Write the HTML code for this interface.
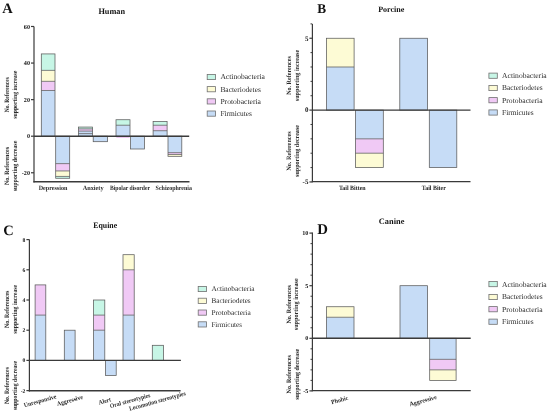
<!DOCTYPE html>
<html><head><meta charset="utf-8"><style>
html,body{margin:0;padding:0;background:#fff;}
body{width:550px;height:416px;overflow:hidden;}
svg{display:block;font-family:"Liberation Serif",serif;text-rendering:geometricPrecision;will-change:transform;}
</style></head><body>
<svg width="550" height="416" viewBox="0 0 550 416">
<rect width="550" height="416" fill="#fff"/>
<text x="7.50" y="13.00" font-size="14.5" font-weight="bold" text-anchor="middle" fill="#111">A</text>
<text x="111.70" y="14.10" font-size="8.4" font-weight="bold" text-anchor="middle" fill="#111" textLength="26.6" lengthAdjust="spacingAndGlyphs">Human</text>
<line x1="34.00" y1="26.50" x2="34.00" y2="182.60" stroke="#3a3a3a" stroke-width="1.2"/>
<line x1="31.00" y1="26.49" x2="34.00" y2="26.49" stroke="#3a3a3a" stroke-width="1.2"/>
<text x="30.00" y="28.60" font-size="6.2" font-weight="bold" text-anchor="end" fill="#151515">60</text>
<line x1="31.00" y1="63.06" x2="34.00" y2="63.06" stroke="#3a3a3a" stroke-width="1.2"/>
<text x="30.00" y="65.17" font-size="6.2" font-weight="bold" text-anchor="end" fill="#151515">40</text>
<line x1="31.00" y1="99.63" x2="34.00" y2="99.63" stroke="#3a3a3a" stroke-width="1.2"/>
<text x="30.00" y="101.74" font-size="6.2" font-weight="bold" text-anchor="end" fill="#151515">20</text>
<line x1="31.00" y1="136.20" x2="34.00" y2="136.20" stroke="#3a3a3a" stroke-width="1.2"/>
<text x="30.00" y="138.31" font-size="6.2" font-weight="bold" text-anchor="end" fill="#151515">0</text>
<line x1="31.00" y1="172.77" x2="34.00" y2="172.77" stroke="#3a3a3a" stroke-width="1.2"/>
<text x="30.00" y="174.88" font-size="6.2" font-weight="bold" text-anchor="end" fill="#151515">-20</text>
<line x1="33.40" y1="181.70" x2="189.50" y2="181.70" stroke="#3a3a3a" stroke-width="1.35"/>
<rect x="41.30" y="90.49" width="13.70" height="45.71" fill="#c6dcf6"/>
<rect x="41.30" y="81.34" width="13.70" height="9.14" fill="#f0c9f5"/>
<rect x="41.30" y="70.37" width="13.70" height="10.97" fill="#fdfbd5"/>
<rect x="41.30" y="53.92" width="13.70" height="16.46" fill="#c7f6e6"/>
<line x1="41.30" y1="90.49" x2="55.00" y2="90.49" stroke="#5a5a5a" stroke-width="0.75"/>
<line x1="41.30" y1="81.34" x2="55.00" y2="81.34" stroke="#5a5a5a" stroke-width="0.75"/>
<line x1="41.30" y1="70.37" x2="55.00" y2="70.37" stroke="#5a5a5a" stroke-width="0.75"/>
<rect x="41.30" y="53.92" width="13.70" height="82.28" fill="none" stroke="#5a5a5a" stroke-width="0.75"/>
<rect x="55.70" y="136.20" width="14.00" height="27.43" fill="#c6dcf6"/>
<rect x="55.70" y="163.63" width="14.00" height="7.31" fill="#f0c9f5"/>
<rect x="55.70" y="170.94" width="14.00" height="5.49" fill="#fdfbd5"/>
<rect x="55.70" y="176.43" width="14.00" height="1.83" fill="#c7f6e6"/>
<line x1="55.70" y1="163.63" x2="69.70" y2="163.63" stroke="#5a5a5a" stroke-width="0.75"/>
<line x1="55.70" y1="170.94" x2="69.70" y2="170.94" stroke="#5a5a5a" stroke-width="0.75"/>
<line x1="55.70" y1="176.43" x2="69.70" y2="176.43" stroke="#5a5a5a" stroke-width="0.75"/>
<rect x="55.70" y="136.20" width="14.00" height="42.06" fill="none" stroke="#5a5a5a" stroke-width="0.75"/>
<rect x="78.50" y="133.64" width="14.10" height="2.56" fill="#c6dcf6"/>
<rect x="78.50" y="131.08" width="14.10" height="2.56" fill="#c6dcf6"/>
<rect x="78.50" y="128.89" width="14.10" height="2.19" fill="#f0c9f5"/>
<rect x="78.50" y="127.06" width="14.10" height="1.83" fill="#c7f6e6"/>
<line x1="78.50" y1="133.64" x2="92.60" y2="133.64" stroke="#5a5a5a" stroke-width="0.75"/>
<line x1="78.50" y1="131.08" x2="92.60" y2="131.08" stroke="#5a5a5a" stroke-width="0.75"/>
<line x1="78.50" y1="128.89" x2="92.60" y2="128.89" stroke="#5a5a5a" stroke-width="0.75"/>
<rect x="78.50" y="127.06" width="14.10" height="9.14" fill="none" stroke="#5a5a5a" stroke-width="0.75"/>
<rect x="93.20" y="136.20" width="14.40" height="5.49" fill="#c6dcf6"/>
<rect x="93.20" y="136.20" width="14.40" height="5.49" fill="none" stroke="#5a5a5a" stroke-width="0.75"/>
<rect x="116.00" y="125.23" width="14.00" height="10.97" fill="#c6dcf6"/>
<rect x="116.00" y="119.74" width="14.00" height="5.49" fill="#c7f6e6"/>
<line x1="116.00" y1="125.23" x2="130.00" y2="125.23" stroke="#5a5a5a" stroke-width="0.75"/>
<rect x="116.00" y="119.74" width="14.00" height="16.46" fill="none" stroke="#5a5a5a" stroke-width="0.75"/>
<line x1="116.40" y1="137.10" x2="129.60" y2="137.10" stroke="#e19ae5" stroke-width="0.9"/>
<rect x="130.60" y="136.20" width="13.80" height="12.80" fill="#c6dcf6"/>
<rect x="130.60" y="136.20" width="13.80" height="12.80" fill="none" stroke="#5a5a5a" stroke-width="0.75"/>
<rect x="153.10" y="130.71" width="14.00" height="5.49" fill="#c6dcf6"/>
<rect x="153.10" y="125.23" width="14.00" height="5.49" fill="#f0c9f5"/>
<rect x="153.10" y="121.57" width="14.00" height="3.66" fill="#c7f6e6"/>
<line x1="153.10" y1="130.71" x2="167.10" y2="130.71" stroke="#5a5a5a" stroke-width="0.75"/>
<line x1="153.10" y1="125.23" x2="167.10" y2="125.23" stroke="#5a5a5a" stroke-width="0.75"/>
<rect x="153.10" y="121.57" width="14.00" height="14.63" fill="none" stroke="#5a5a5a" stroke-width="0.75"/>
<rect x="168.00" y="136.20" width="13.80" height="16.46" fill="#c6dcf6"/>
<rect x="168.00" y="152.66" width="13.80" height="1.83" fill="#f0c9f5"/>
<rect x="168.00" y="154.48" width="13.80" height="1.83" fill="#fdfbd5"/>
<line x1="168.00" y1="152.66" x2="181.80" y2="152.66" stroke="#5a5a5a" stroke-width="0.75"/>
<line x1="168.00" y1="154.48" x2="181.80" y2="154.48" stroke="#5a5a5a" stroke-width="0.75"/>
<rect x="168.00" y="136.20" width="13.80" height="20.11" fill="none" stroke="#5a5a5a" stroke-width="0.75"/>
<line x1="34.00" y1="136.20" x2="189.20" y2="136.20" stroke="#3a3a3a" stroke-width="1.4"/>
<text x="53.00" y="189.60" font-size="6.6" font-weight="bold" text-anchor="middle" fill="#2c2c2c" textLength="28.7" lengthAdjust="spacingAndGlyphs">Depression</text>
<text x="93.10" y="189.60" font-size="6.6" font-weight="bold" text-anchor="middle" fill="#2c2c2c" textLength="20.9" lengthAdjust="spacingAndGlyphs">Anxiety</text>
<text x="130.00" y="189.60" font-size="6.6" font-weight="bold" text-anchor="middle" fill="#2c2c2c" textLength="40.0" lengthAdjust="spacingAndGlyphs">Bipolar disorder</text>
<text x="173.80" y="189.60" font-size="6.6" font-weight="bold" text-anchor="middle" fill="#2c2c2c" textLength="36.4" lengthAdjust="spacingAndGlyphs">Schizophrenia</text>
<text x="7.50" y="94.70" font-size="6.6" font-weight="bold" text-anchor="middle" fill="#2a2a2a" transform="rotate(-90 7.50 94.70)" textLength="35" lengthAdjust="spacingAndGlyphs" dominant-baseline="central">No. References</text>
<text x="15.30" y="94.70" font-size="6.6" font-weight="bold" text-anchor="middle" fill="#2a2a2a" transform="rotate(-90 15.30 94.70)" textLength="48" lengthAdjust="spacingAndGlyphs" dominant-baseline="central">supporting increase</text>
<text x="7.80" y="166.00" font-size="6.6" font-weight="bold" text-anchor="middle" fill="#2a2a2a" transform="rotate(-90 7.80 166.00)" textLength="38" lengthAdjust="spacingAndGlyphs" dominant-baseline="central">No. References</text>
<text x="15.60" y="166.00" font-size="6.6" font-weight="bold" text-anchor="middle" fill="#2a2a2a" transform="rotate(-90 15.60 166.00)" textLength="50.5" lengthAdjust="spacingAndGlyphs" dominant-baseline="central">supporting decrease</text>
<rect x="207.20" y="74.40" width="8.4" height="5.2" fill="#c7f6e6" stroke="#707070" stroke-width="0.8"/>
<text x="220.40" y="79.40" font-size="7.6" font-weight="normal" text-anchor="start" fill="#2a2a2a" textLength="44.5" lengthAdjust="spacingAndGlyphs">Actinobacteria</text>
<rect x="207.20" y="86.60" width="8.4" height="5.2" fill="#fdfbd5" stroke="#707070" stroke-width="0.8"/>
<text x="220.40" y="91.60" font-size="7.6" font-weight="normal" text-anchor="start" fill="#2a2a2a" textLength="40.5" lengthAdjust="spacingAndGlyphs">Bacteriodetes</text>
<rect x="207.20" y="98.80" width="8.4" height="5.2" fill="#f0c9f5" stroke="#707070" stroke-width="0.8"/>
<text x="220.40" y="103.80" font-size="7.6" font-weight="normal" text-anchor="start" fill="#2a2a2a" textLength="40.5" lengthAdjust="spacingAndGlyphs">Protobacteria</text>
<rect x="207.20" y="111.00" width="8.4" height="5.2" fill="#c6dcf6" stroke="#707070" stroke-width="0.8"/>
<text x="220.40" y="116.00" font-size="7.6" font-weight="normal" text-anchor="start" fill="#2a2a2a" textLength="31.5" lengthAdjust="spacingAndGlyphs">Firmicutes</text>
<text x="321.60" y="12.70" font-size="13.3" font-weight="bold" text-anchor="middle" fill="#111">B</text>
<text x="391.30" y="11.80" font-size="8.2" font-weight="bold" text-anchor="middle" fill="#111" textLength="26.3" lengthAdjust="spacingAndGlyphs">Porcine</text>
<line x1="312.40" y1="24.00" x2="312.40" y2="182.30" stroke="#3a3a3a" stroke-width="1.2"/>
<line x1="309.40" y1="38.25" x2="312.40" y2="38.25" stroke="#3a3a3a" stroke-width="1.2"/>
<text x="308.40" y="40.63" font-size="7.0" font-weight="bold" text-anchor="end" fill="#151515">5</text>
<line x1="309.40" y1="110.10" x2="312.40" y2="110.10" stroke="#3a3a3a" stroke-width="1.2"/>
<text x="308.40" y="112.48" font-size="7.0" font-weight="bold" text-anchor="end" fill="#151515">0</text>
<line x1="309.40" y1="181.95" x2="312.40" y2="181.95" stroke="#3a3a3a" stroke-width="1.2"/>
<text x="308.40" y="184.33" font-size="7.0" font-weight="bold" text-anchor="end" fill="#151515">-5</text>
<line x1="310.50" y1="23.88" x2="312.30" y2="23.88" stroke="#3a3a3a" stroke-width="1.0"/>
<line x1="310.50" y1="52.62" x2="312.30" y2="52.62" stroke="#3a3a3a" stroke-width="1.0"/>
<line x1="310.50" y1="66.99" x2="312.30" y2="66.99" stroke="#3a3a3a" stroke-width="1.0"/>
<line x1="310.50" y1="81.36" x2="312.30" y2="81.36" stroke="#3a3a3a" stroke-width="1.0"/>
<line x1="310.50" y1="95.73" x2="312.30" y2="95.73" stroke="#3a3a3a" stroke-width="1.0"/>
<line x1="310.50" y1="124.47" x2="312.30" y2="124.47" stroke="#3a3a3a" stroke-width="1.0"/>
<line x1="310.50" y1="138.84" x2="312.30" y2="138.84" stroke="#3a3a3a" stroke-width="1.0"/>
<line x1="310.50" y1="153.21" x2="312.30" y2="153.21" stroke="#3a3a3a" stroke-width="1.0"/>
<line x1="310.50" y1="167.58" x2="312.30" y2="167.58" stroke="#3a3a3a" stroke-width="1.0"/>
<line x1="311.80" y1="181.60" x2="470.50" y2="181.60" stroke="#3a3a3a" stroke-width="1.35"/>
<rect x="326.40" y="66.99" width="27.70" height="43.11" fill="#c6dcf6"/>
<rect x="326.40" y="38.25" width="27.70" height="28.74" fill="#fdfbd5"/>
<line x1="326.40" y1="66.99" x2="354.10" y2="66.99" stroke="#5a5a5a" stroke-width="0.75"/>
<rect x="326.40" y="38.25" width="27.70" height="71.85" fill="none" stroke="#5a5a5a" stroke-width="0.75"/>
<rect x="355.40" y="110.10" width="27.90" height="28.74" fill="#c6dcf6"/>
<rect x="355.40" y="138.84" width="27.90" height="14.37" fill="#f0c9f5"/>
<rect x="355.40" y="153.21" width="27.90" height="14.37" fill="#fdfbd5"/>
<line x1="355.40" y1="138.84" x2="383.30" y2="138.84" stroke="#5a5a5a" stroke-width="0.75"/>
<line x1="355.40" y1="153.21" x2="383.30" y2="153.21" stroke="#5a5a5a" stroke-width="0.75"/>
<rect x="355.40" y="110.10" width="27.90" height="57.48" fill="none" stroke="#5a5a5a" stroke-width="0.75"/>
<rect x="399.80" y="38.25" width="27.80" height="71.85" fill="#c6dcf6"/>
<rect x="399.80" y="38.25" width="27.80" height="71.85" fill="none" stroke="#5a5a5a" stroke-width="0.75"/>
<rect x="429.30" y="110.10" width="27.50" height="57.48" fill="#c6dcf6"/>
<rect x="429.30" y="110.10" width="27.50" height="57.48" fill="none" stroke="#5a5a5a" stroke-width="0.75"/>
<line x1="312.30" y1="110.10" x2="470.50" y2="110.10" stroke="#3a3a3a" stroke-width="1.4"/>
<text x="352.30" y="189.60" font-size="6.6" font-weight="bold" text-anchor="middle" fill="#222" textLength="26.7" lengthAdjust="spacingAndGlyphs">Tail Bitten</text>
<text x="433.80" y="189.60" font-size="6.6" font-weight="bold" text-anchor="middle" fill="#222" textLength="24.0" lengthAdjust="spacingAndGlyphs">Tail Biter</text>
<text x="289.20" y="75.50" font-size="6.6" font-weight="bold" text-anchor="middle" fill="#2a2a2a" transform="rotate(-90 289.20 75.50)" textLength="38.7" lengthAdjust="spacingAndGlyphs" dominant-baseline="central">No. References</text>
<text x="297.00" y="75.50" font-size="6.6" font-weight="bold" text-anchor="middle" fill="#2a2a2a" transform="rotate(-90 297.00 75.50)" textLength="51.3" lengthAdjust="spacingAndGlyphs" dominant-baseline="central">supporting increase</text>
<text x="289.20" y="151.00" font-size="6.6" font-weight="bold" text-anchor="middle" fill="#2a2a2a" transform="rotate(-90 289.20 151.00)" textLength="39.6" lengthAdjust="spacingAndGlyphs" dominant-baseline="central">No. References</text>
<text x="297.00" y="151.00" font-size="6.6" font-weight="bold" text-anchor="middle" fill="#2a2a2a" transform="rotate(-90 297.00 151.00)" textLength="51.9" lengthAdjust="spacingAndGlyphs" dominant-baseline="central">supporting decrease</text>
<rect x="488.90" y="73.10" width="8.4" height="5.2" fill="#c7f6e6" stroke="#707070" stroke-width="0.8"/>
<text x="502.10" y="78.10" font-size="7.6" font-weight="normal" text-anchor="start" fill="#2a2a2a" textLength="44.5" lengthAdjust="spacingAndGlyphs">Actinobacteria</text>
<rect x="488.90" y="85.40" width="8.4" height="5.2" fill="#fdfbd5" stroke="#707070" stroke-width="0.8"/>
<text x="502.10" y="90.40" font-size="7.6" font-weight="normal" text-anchor="start" fill="#2a2a2a" textLength="40.5" lengthAdjust="spacingAndGlyphs">Bacteriodetes</text>
<rect x="488.90" y="97.60" width="8.4" height="5.2" fill="#f0c9f5" stroke="#707070" stroke-width="0.8"/>
<text x="502.10" y="102.60" font-size="7.6" font-weight="normal" text-anchor="start" fill="#2a2a2a" textLength="40.5" lengthAdjust="spacingAndGlyphs">Protobacteria</text>
<rect x="488.90" y="109.90" width="8.4" height="5.2" fill="#c6dcf6" stroke="#707070" stroke-width="0.8"/>
<text x="502.10" y="114.90" font-size="7.6" font-weight="normal" text-anchor="start" fill="#2a2a2a" textLength="31.5" lengthAdjust="spacingAndGlyphs">Firmicutes</text>
<text x="8.40" y="234.50" font-size="14.5" font-weight="bold" text-anchor="middle" fill="#111">C</text>
<text x="105.20" y="227.70" font-size="8.4" font-weight="bold" text-anchor="middle" fill="#111" textLength="23.9" lengthAdjust="spacingAndGlyphs">Equine</text>
<line x1="29.40" y1="239.60" x2="29.40" y2="391.40" stroke="#3a3a3a" stroke-width="1.2"/>
<line x1="26.40" y1="239.60" x2="29.40" y2="239.60" stroke="#3a3a3a" stroke-width="1.2"/>
<text x="25.40" y="241.50" font-size="5.6" font-weight="bold" text-anchor="end" fill="#151515">8</text>
<line x1="26.40" y1="269.80" x2="29.40" y2="269.80" stroke="#3a3a3a" stroke-width="1.2"/>
<text x="25.40" y="271.70" font-size="5.6" font-weight="bold" text-anchor="end" fill="#151515">6</text>
<line x1="26.40" y1="300.00" x2="29.40" y2="300.00" stroke="#3a3a3a" stroke-width="1.2"/>
<text x="25.40" y="301.90" font-size="5.6" font-weight="bold" text-anchor="end" fill="#151515">4</text>
<line x1="26.40" y1="330.20" x2="29.40" y2="330.20" stroke="#3a3a3a" stroke-width="1.2"/>
<text x="25.40" y="332.10" font-size="5.6" font-weight="bold" text-anchor="end" fill="#151515">2</text>
<line x1="26.40" y1="360.40" x2="29.40" y2="360.40" stroke="#3a3a3a" stroke-width="1.2"/>
<text x="25.40" y="362.30" font-size="5.6" font-weight="bold" text-anchor="end" fill="#151515">0</text>
<line x1="26.40" y1="390.60" x2="29.40" y2="390.60" stroke="#3a3a3a" stroke-width="1.2"/>
<text x="25.40" y="392.50" font-size="5.6" font-weight="bold" text-anchor="end" fill="#151515">-2</text>
<line x1="28.80" y1="390.70" x2="180.60" y2="390.70" stroke="#3a3a3a" stroke-width="1.35"/>
<rect x="35.10" y="315.10" width="10.70" height="45.30" fill="#c6dcf6"/>
<rect x="35.10" y="284.90" width="10.70" height="30.20" fill="#f0c9f5"/>
<line x1="35.10" y1="315.10" x2="45.80" y2="315.10" stroke="#5a5a5a" stroke-width="0.75"/>
<rect x="35.10" y="284.90" width="10.70" height="75.50" fill="none" stroke="#5a5a5a" stroke-width="0.75"/>
<rect x="64.30" y="330.20" width="10.80" height="30.20" fill="#c6dcf6"/>
<rect x="64.30" y="330.20" width="10.80" height="30.20" fill="none" stroke="#5a5a5a" stroke-width="0.75"/>
<rect x="93.50" y="330.20" width="11.30" height="30.20" fill="#c6dcf6"/>
<rect x="93.50" y="315.10" width="11.30" height="15.10" fill="#f0c9f5"/>
<rect x="93.50" y="300.00" width="11.30" height="15.10" fill="#c7f6e6"/>
<line x1="93.50" y1="330.20" x2="104.80" y2="330.20" stroke="#5a5a5a" stroke-width="0.75"/>
<line x1="93.50" y1="315.10" x2="104.80" y2="315.10" stroke="#5a5a5a" stroke-width="0.75"/>
<rect x="93.50" y="300.00" width="11.30" height="60.40" fill="none" stroke="#5a5a5a" stroke-width="0.75"/>
<rect x="105.40" y="360.40" width="10.80" height="15.10" fill="#c6dcf6"/>
<rect x="105.40" y="360.40" width="10.80" height="15.10" fill="none" stroke="#5a5a5a" stroke-width="0.75"/>
<rect x="123.00" y="315.10" width="11.20" height="45.30" fill="#c6dcf6"/>
<rect x="123.00" y="269.80" width="11.20" height="45.30" fill="#f0c9f5"/>
<rect x="123.00" y="254.70" width="11.20" height="15.10" fill="#fdfbd5"/>
<line x1="123.00" y1="315.10" x2="134.20" y2="315.10" stroke="#5a5a5a" stroke-width="0.75"/>
<line x1="123.00" y1="269.80" x2="134.20" y2="269.80" stroke="#5a5a5a" stroke-width="0.75"/>
<rect x="123.00" y="254.70" width="11.20" height="105.70" fill="none" stroke="#5a5a5a" stroke-width="0.75"/>
<rect x="152.30" y="345.30" width="11.10" height="15.10" fill="#c7f6e6"/>
<rect x="152.30" y="345.30" width="11.10" height="15.10" fill="none" stroke="#5a5a5a" stroke-width="0.75"/>
<line x1="29.40" y1="360.40" x2="180.90" y2="360.40" stroke="#3a3a3a" stroke-width="1.4"/>
<text x="40.60" y="402.80" font-size="6.4" font-weight="bold" text-anchor="middle" fill="#2c2c2c" transform="rotate(-15.5 40.60 402.80)" textLength="33.6" lengthAdjust="spacingAndGlyphs">Unresponsive</text>
<text x="70.30" y="402.40" font-size="6.4" font-weight="bold" text-anchor="middle" fill="#2c2c2c" transform="rotate(-15.5 70.30 402.40)" textLength="26.8" lengthAdjust="spacingAndGlyphs">Aggressive</text>
<text x="105.30" y="403.00" font-size="6.4" font-weight="bold" text-anchor="middle" fill="#2c2c2c" transform="rotate(-15.5 105.30 403.00)" textLength="12.5" lengthAdjust="spacingAndGlyphs">Alert</text>
<text x="130.60" y="402.60" font-size="6.4" font-weight="bold" text-anchor="middle" fill="#2c2c2c" transform="rotate(-15.5 130.60 402.60)" textLength="41.5" lengthAdjust="spacingAndGlyphs">Oral stereotypies</text>
<text x="157.90" y="403.00" font-size="6.4" font-weight="bold" text-anchor="middle" fill="#2c2c2c" transform="rotate(-15.5 157.90 403.00)" textLength="58.5" lengthAdjust="spacingAndGlyphs">Locomotion stereotypies</text>
<text x="7.60" y="309.30" font-size="6.6" font-weight="bold" text-anchor="middle" fill="#2a2a2a" transform="rotate(-90 7.60 309.30)" textLength="37.4" lengthAdjust="spacingAndGlyphs" dominant-baseline="central">No. References</text>
<text x="15.40" y="309.30" font-size="6.6" font-weight="bold" text-anchor="middle" fill="#2a2a2a" transform="rotate(-90 15.40 309.30)" textLength="49.0" lengthAdjust="spacingAndGlyphs" dominant-baseline="central">supporting increase</text>
<text x="8.00" y="385.60" font-size="6.6" font-weight="bold" text-anchor="middle" fill="#2a2a2a" transform="rotate(-90 8.00 385.60)" textLength="37.0" lengthAdjust="spacingAndGlyphs" dominant-baseline="central">No. References</text>
<text x="15.80" y="385.60" font-size="6.6" font-weight="bold" text-anchor="middle" fill="#2a2a2a" transform="rotate(-90 15.80 385.60)" textLength="49.5" lengthAdjust="spacingAndGlyphs" dominant-baseline="central">supporting decrease</text>
<rect x="198.20" y="286.40" width="8.4" height="5.2" fill="#c7f6e6" stroke="#707070" stroke-width="0.8"/>
<text x="211.40" y="291.40" font-size="7.372" font-weight="normal" text-anchor="start" fill="#2a2a2a" textLength="43.16" lengthAdjust="spacingAndGlyphs">Actinobacteria</text>
<rect x="198.20" y="298.20" width="8.4" height="5.2" fill="#fdfbd5" stroke="#707070" stroke-width="0.8"/>
<text x="211.40" y="303.20" font-size="7.372" font-weight="normal" text-anchor="start" fill="#2a2a2a" textLength="39.28" lengthAdjust="spacingAndGlyphs">Bacteriodetes</text>
<rect x="198.20" y="310.00" width="8.4" height="5.2" fill="#f0c9f5" stroke="#707070" stroke-width="0.8"/>
<text x="211.40" y="315.00" font-size="7.372" font-weight="normal" text-anchor="start" fill="#2a2a2a" textLength="39.28" lengthAdjust="spacingAndGlyphs">Protobacteria</text>
<rect x="198.20" y="321.80" width="8.4" height="5.2" fill="#c6dcf6" stroke="#707070" stroke-width="0.8"/>
<text x="211.40" y="326.80" font-size="7.372" font-weight="normal" text-anchor="start" fill="#2a2a2a" textLength="30.55" lengthAdjust="spacingAndGlyphs">Firmicutes</text>
<text x="322.70" y="234.10" font-size="14.8" font-weight="bold" text-anchor="middle" fill="#111">D</text>
<text x="391.60" y="223.60" font-size="8.4" font-weight="bold" text-anchor="middle" fill="#111" textLength="25.5" lengthAdjust="spacingAndGlyphs">Canine</text>
<line x1="312.40" y1="232.50" x2="312.40" y2="391.30" stroke="#3a3a3a" stroke-width="1.2"/>
<line x1="309.40" y1="233.10" x2="312.40" y2="233.10" stroke="#3a3a3a" stroke-width="1.2"/>
<text x="308.40" y="235.21" font-size="6.2" font-weight="bold" text-anchor="end" fill="#151515">10</text>
<line x1="309.40" y1="285.70" x2="312.40" y2="285.70" stroke="#3a3a3a" stroke-width="1.2"/>
<text x="308.40" y="287.81" font-size="6.2" font-weight="bold" text-anchor="end" fill="#151515">5</text>
<line x1="309.40" y1="338.30" x2="312.40" y2="338.30" stroke="#3a3a3a" stroke-width="1.2"/>
<text x="308.40" y="340.41" font-size="6.2" font-weight="bold" text-anchor="end" fill="#151515">0</text>
<line x1="309.40" y1="390.90" x2="312.40" y2="390.90" stroke="#3a3a3a" stroke-width="1.2"/>
<text x="308.40" y="393.01" font-size="6.2" font-weight="bold" text-anchor="end" fill="#151515">-5</text>
<line x1="310.50" y1="243.62" x2="312.30" y2="243.62" stroke="#3a3a3a" stroke-width="1.0"/>
<line x1="310.50" y1="254.14" x2="312.30" y2="254.14" stroke="#3a3a3a" stroke-width="1.0"/>
<line x1="310.50" y1="264.66" x2="312.30" y2="264.66" stroke="#3a3a3a" stroke-width="1.0"/>
<line x1="310.50" y1="275.18" x2="312.30" y2="275.18" stroke="#3a3a3a" stroke-width="1.0"/>
<line x1="310.50" y1="296.22" x2="312.30" y2="296.22" stroke="#3a3a3a" stroke-width="1.0"/>
<line x1="310.50" y1="306.74" x2="312.30" y2="306.74" stroke="#3a3a3a" stroke-width="1.0"/>
<line x1="310.50" y1="317.26" x2="312.30" y2="317.26" stroke="#3a3a3a" stroke-width="1.0"/>
<line x1="310.50" y1="327.78" x2="312.30" y2="327.78" stroke="#3a3a3a" stroke-width="1.0"/>
<line x1="310.50" y1="348.82" x2="312.30" y2="348.82" stroke="#3a3a3a" stroke-width="1.0"/>
<line x1="310.50" y1="359.34" x2="312.30" y2="359.34" stroke="#3a3a3a" stroke-width="1.0"/>
<line x1="310.50" y1="369.86" x2="312.30" y2="369.86" stroke="#3a3a3a" stroke-width="1.0"/>
<line x1="310.50" y1="380.38" x2="312.30" y2="380.38" stroke="#3a3a3a" stroke-width="1.0"/>
<line x1="311.80" y1="390.60" x2="470.70" y2="390.60" stroke="#3a3a3a" stroke-width="1.35"/>
<rect x="326.40" y="317.26" width="27.60" height="21.04" fill="#c6dcf6"/>
<rect x="326.40" y="306.74" width="27.60" height="10.52" fill="#fdfbd5"/>
<line x1="326.40" y1="317.26" x2="354.00" y2="317.26" stroke="#5a5a5a" stroke-width="0.75"/>
<rect x="326.40" y="306.74" width="27.60" height="31.56" fill="none" stroke="#5a5a5a" stroke-width="0.75"/>
<rect x="400.00" y="285.70" width="27.60" height="52.60" fill="#c6dcf6"/>
<rect x="400.00" y="285.70" width="27.60" height="52.60" fill="none" stroke="#5a5a5a" stroke-width="0.75"/>
<rect x="429.70" y="338.30" width="26.40" height="21.04" fill="#c6dcf6"/>
<rect x="429.70" y="359.34" width="26.40" height="10.52" fill="#f0c9f5"/>
<rect x="429.70" y="369.86" width="26.40" height="10.52" fill="#fdfbd5"/>
<line x1="429.70" y1="359.34" x2="456.10" y2="359.34" stroke="#5a5a5a" stroke-width="0.75"/>
<line x1="429.70" y1="369.86" x2="456.10" y2="369.86" stroke="#5a5a5a" stroke-width="0.75"/>
<rect x="429.70" y="338.30" width="26.40" height="42.08" fill="none" stroke="#5a5a5a" stroke-width="0.75"/>
<line x1="312.30" y1="338.30" x2="470.70" y2="338.30" stroke="#3a3a3a" stroke-width="1.4"/>
<text x="340.20" y="402.00" font-size="6.2" font-weight="bold" text-anchor="middle" fill="#2c2c2c" transform="rotate(-15.5 340.20 402.00)" textLength="17.5" lengthAdjust="spacingAndGlyphs">Phobic</text>
<text x="423.60" y="402.60" font-size="6.2" font-weight="bold" text-anchor="middle" fill="#2c2c2c" transform="rotate(-15.5 423.60 402.60)" textLength="28.2" lengthAdjust="spacingAndGlyphs">Aggressive</text>
<text x="289.10" y="304.30" font-size="6.6" font-weight="bold" text-anchor="middle" fill="#2a2a2a" transform="rotate(-90 289.10 304.30)" textLength="38.5" lengthAdjust="spacingAndGlyphs" dominant-baseline="central">No. References</text>
<text x="296.90" y="304.30" font-size="6.6" font-weight="bold" text-anchor="middle" fill="#2a2a2a" transform="rotate(-90 296.90 304.30)" textLength="51.9" lengthAdjust="spacingAndGlyphs" dominant-baseline="central">supporting increase</text>
<text x="289.30" y="374.30" font-size="6.6" font-weight="bold" text-anchor="middle" fill="#2a2a2a" transform="rotate(-90 289.30 374.30)" textLength="38.2" lengthAdjust="spacingAndGlyphs" dominant-baseline="central">No. References</text>
<text x="297.10" y="374.30" font-size="6.6" font-weight="bold" text-anchor="middle" fill="#2a2a2a" transform="rotate(-90 297.10 374.30)" textLength="51.0" lengthAdjust="spacingAndGlyphs" dominant-baseline="central">supporting decrease</text>
<rect x="488.90" y="281.50" width="8.4" height="5.2" fill="#c7f6e6" stroke="#707070" stroke-width="0.8"/>
<text x="502.10" y="286.50" font-size="7.6" font-weight="normal" text-anchor="start" fill="#2a2a2a" textLength="44.5" lengthAdjust="spacingAndGlyphs">Actinobacteria</text>
<rect x="488.90" y="294.40" width="8.4" height="5.2" fill="#fdfbd5" stroke="#707070" stroke-width="0.8"/>
<text x="502.10" y="299.40" font-size="7.6" font-weight="normal" text-anchor="start" fill="#2a2a2a" textLength="40.5" lengthAdjust="spacingAndGlyphs">Bacteriodetes</text>
<rect x="488.90" y="306.60" width="8.4" height="5.2" fill="#f0c9f5" stroke="#707070" stroke-width="0.8"/>
<text x="502.10" y="311.60" font-size="7.6" font-weight="normal" text-anchor="start" fill="#2a2a2a" textLength="40.5" lengthAdjust="spacingAndGlyphs">Protobacteria</text>
<rect x="488.90" y="319.10" width="8.4" height="5.2" fill="#c6dcf6" stroke="#707070" stroke-width="0.8"/>
<text x="502.10" y="324.10" font-size="7.6" font-weight="normal" text-anchor="start" fill="#2a2a2a" textLength="31.5" lengthAdjust="spacingAndGlyphs">Firmicutes</text>
</svg>
</body></html>
